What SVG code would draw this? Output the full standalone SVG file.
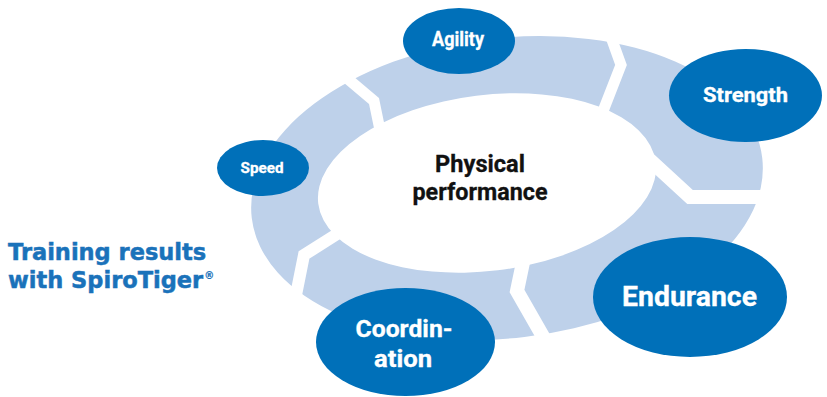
<svg xmlns="http://www.w3.org/2000/svg" width="827" height="397" viewBox="0 0 827 397">
  <style>
    .ring { fill: #bed1ea; }
    .gap { fill: none; stroke: #ffffff; stroke-linejoin: miter; stroke-miterlimit: 10; }
    .node { fill: #0070b9; }
    .lbl { font-family: Roboto, "Liberation Sans", Arial, sans-serif; font-weight: bold; fill: #ffffff; stroke: #ffffff; stroke-width: 0.3; text-anchor: middle; }
    .center { fill: #ffffff; }
    .clbl { font-family: Roboto, "Liberation Sans", Arial, sans-serif; font-weight: bold; fill: #111111; stroke: #111111; stroke-width: 0.3; text-anchor: middle; }
    .title { font-family: "DejaVu Sans", "Liberation Sans", sans-serif; font-weight: bold; fill: #1a72ba; stroke: #1a72ba; stroke-width: 0.5; }
  </style>
  <rect width="827" height="397" fill="#ffffff"/>

  <g id="connectors">
    <ellipse class="ring" cx="507" cy="188" rx="257" ry="150" transform="rotate(-6.7 507 188)"/>
    <polyline class="gap" stroke-width="11" points="342,74 374,101 381,135 384,150"/>
    <polyline class="gap" stroke-width="11" points="607,26 621,65 605,106 599,122"/>
    <polyline class="gap" stroke-width="14" points="640,151 690,197 780,197"/>
    <polyline class="gap" stroke-width="14" points="526,248 517,291 545,340"/>
    <polyline class="gap" stroke-width="12" points="345,229 304,255 295,300 292,315"/>
  </g>

  <g id="node-physical-performance">
    <ellipse class="center" cx="487" cy="183" rx="170" ry="88" transform="rotate(-7 487 183)"/>
    <text class="clbl" x="480" y="172" font-size="23.5" textLength="90" lengthAdjust="spacingAndGlyphs">Physical</text>
    <text class="clbl" x="480" y="200" font-size="23.5" textLength="135" lengthAdjust="spacingAndGlyphs">performance</text>
  </g>

  <g id="node-agility">
    <ellipse class="node" cx="459" cy="41" rx="56" ry="33"/>
    <text class="lbl" x="458" y="46" font-size="19.5" textLength="52" lengthAdjust="spacingAndGlyphs">Agility</text>
  </g>

  <g id="node-strength">
    <ellipse class="node" cx="745.5" cy="95.5" rx="76.5" ry="46.5"/>
    <text class="lbl" x="745.5" y="101.5" font-size="21" textLength="85" lengthAdjust="spacingAndGlyphs">Strength</text>
  </g>

  <g id="node-speed">
    <ellipse class="node" cx="263" cy="168" rx="46" ry="28"/>
    <text class="lbl" x="262" y="173" font-size="15.5" textLength="43" lengthAdjust="spacingAndGlyphs">Speed</text>
  </g>

  <g id="node-endurance">
    <ellipse class="node" cx="690" cy="297" rx="97" ry="60"/>
    <text class="lbl" x="689.5" y="306" font-size="27" textLength="135" lengthAdjust="spacingAndGlyphs">Endurance</text>
  </g>

  <g id="node-coordination">
    <ellipse class="node" cx="405.5" cy="342" rx="89.5" ry="54"/>
    <text class="lbl" x="404" y="337" font-size="23.5" textLength="97" lengthAdjust="spacingAndGlyphs">Coordin-</text>
    <text class="lbl" x="403" y="367" font-size="23.5" textLength="58" lengthAdjust="spacingAndGlyphs">ation</text>
  </g>

  <g id="title">
    <text class="title" x="8" y="260" font-size="22.5">Training results</text>
    <text class="title" x="8" y="288" font-size="22.5">with SpiroTiger<tspan font-size="10" dy="-9" dx="1" stroke-width="0.2">®</tspan></text>
  </g>
</svg>
